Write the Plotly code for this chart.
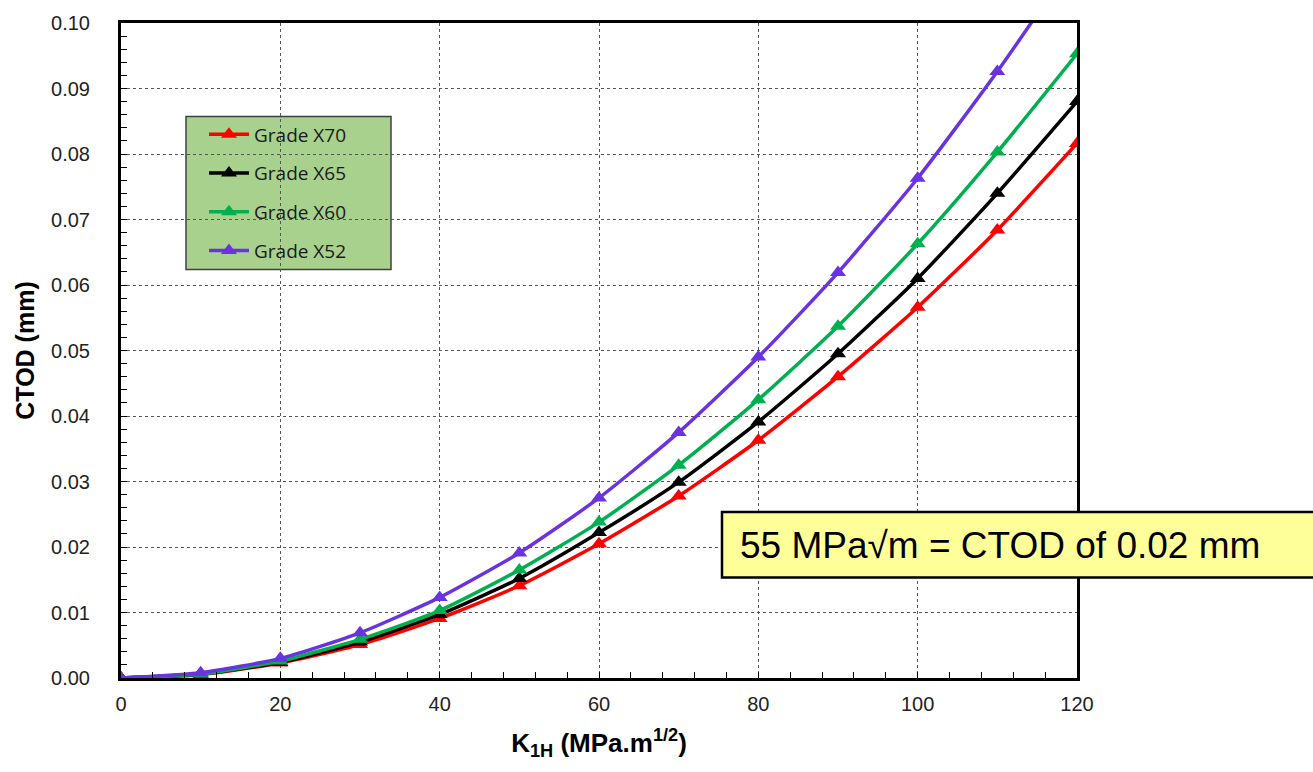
import plotly.graph_objects as go

k_values = [0, 10, 20, 30, 40, 50, 60, 70, 80, 90, 100, 110, 120]

ctod_x70 = [0.0, 0.0005, 0.0023, 0.0051, 0.0091, 0.0141, 0.0205, 0.0278, 0.0363, 0.0460, 0.0566, 0.0684, 0.0816]
ctod_x65 = [0.0, 0.0006, 0.0024, 0.0055, 0.0097, 0.0152, 0.0222, 0.0299, 0.0391, 0.0495, 0.0610, 0.0740, 0.0880]
ctod_x60 = [0.0, 0.0006, 0.0026, 0.0059, 0.0103, 0.0165, 0.0238, 0.0325, 0.0425, 0.0537, 0.0663, 0.0803, 0.0953]
ctod_x52 = [0.0, 0.0008, 0.0030, 0.0069, 0.0123, 0.0191, 0.0275, 0.0375, 0.0490, 0.0619, 0.0763, 0.0926, 0.1102]

series_names = ["Grade X70", "Grade X65", "Grade X60", "Grade X52"]
series_colors = ["#FF0000", "#000000", "#00B050", "#6A33E0"]
series_values = [ctod_x70, ctod_x65, ctod_x60, ctod_x52]

x_tick_values = [0, 20, 40, 60, 80, 100, 120]
y_tick_values = [0.0, 0.01, 0.02, 0.03, 0.04, 0.05, 0.06, 0.07, 0.08, 0.09, 0.10]

annotation_text = "55 MPa√m = CTOD of 0.02 mm"

PX_W = 956.0
PX_H = 659.0
def px(xp):
    return (xp - 121) / PX_W
def py(yp):
    return (678 - yp) / PX_H

fig = go.Figure()
for i, (name, color, vals) in enumerate(zip(series_names, series_colors, series_values)):
    fig.add_trace(go.Scatter(
        x=k_values, y=vals, name=name, mode="lines+markers",
        legendgroup="g%d" % i,
        line=dict(color=color, width=3.5, shape="spline", smoothing=0.6),
        marker=dict(symbol="triangle-up", size=14, color=color),
        cliponaxis=True,
    ))

fig.update_layout(
    width=1313, height=772,
    margin=dict(l=121, r=236, t=19, b=94),
    paper_bgcolor="white", plot_bgcolor="white",
    font=dict(family="Arial, Liberation Sans", color="#000000"),
    showlegend=True,
    legend=dict(
        x=px(204), y=py(112), xanchor="left", yanchor="top",
        bgcolor="rgba(0,0,0,0)", borderwidth=0,
        font=dict(family="Open Sans, Noto Sans", size=19, color="#1a1a1a"),
        itemwidth=40, tracegroupgap=11,
    ),
    xaxis=dict(
        range=[0, 120], tickvals=x_tick_values,
        showline=True, linecolor="black", linewidth=3, mirror=True,
        showgrid=True, gridcolor="#555555", griddash="dot", gridwidth=1,
        ticks="inside", ticklen=6, tickcolor="black",
        minor=dict(dtick=4, ticks="inside", ticklen=6, tickcolor="black", showgrid=False),
        tickfont=dict(size=20, color="#222222"),
        ticklabelstandoff=6,
        zeroline=False,
        title=dict(text="<b>K<sub>1H</sub> (MPa.m<sup>1/2</sup>)</b>", font=dict(size=26), standoff=20),
    ),
    yaxis=dict(
        range=[0, 0.10], tickvals=y_tick_values, tickformat=".2f",
        showline=True, linecolor="black", linewidth=3, mirror=True,
        showgrid=True, gridcolor="#555555", griddash="dot", gridwidth=1,
        ticks="inside", ticklen=6, tickcolor="black",
        minor=dict(dtick=0.002, ticks="inside", ticklen=6, tickcolor="black", showgrid=False),
        tickfont=dict(size=20, color="#222222"),
        ticklabelstandoff=24,
        zeroline=False,
        title=dict(text="<b>CTOD (mm)</b>", font=dict(size=25), standoff=10),
    ),
)

# legend background box
fig.add_shape(
    type="rect", xref="paper", yref="paper",
    x0=px(186), x1=px(391), y0=py(267), y1=py(113),
    fillcolor="#A9D18E", line=dict(color="#404040", width=1.5), layer="between",
)

# annotation box
fig.add_shape(
    type="rect", xref="paper", yref="paper",
    x0=px(722), x1=px(1330), y0=py(577), y1=py(511),
    fillcolor="#FFFF99", line=dict(color="black", width=2.5), layer="above",
)
fig.add_annotation(
    xref="paper", yref="paper",
    x=px(738), y=py(545), xanchor="left", yanchor="middle",
    text=annotation_text, showarrow=False,
    font=dict(family="Arial, Liberation Sans", size=37, color="black"),
)

fig.write_html("out.html")
